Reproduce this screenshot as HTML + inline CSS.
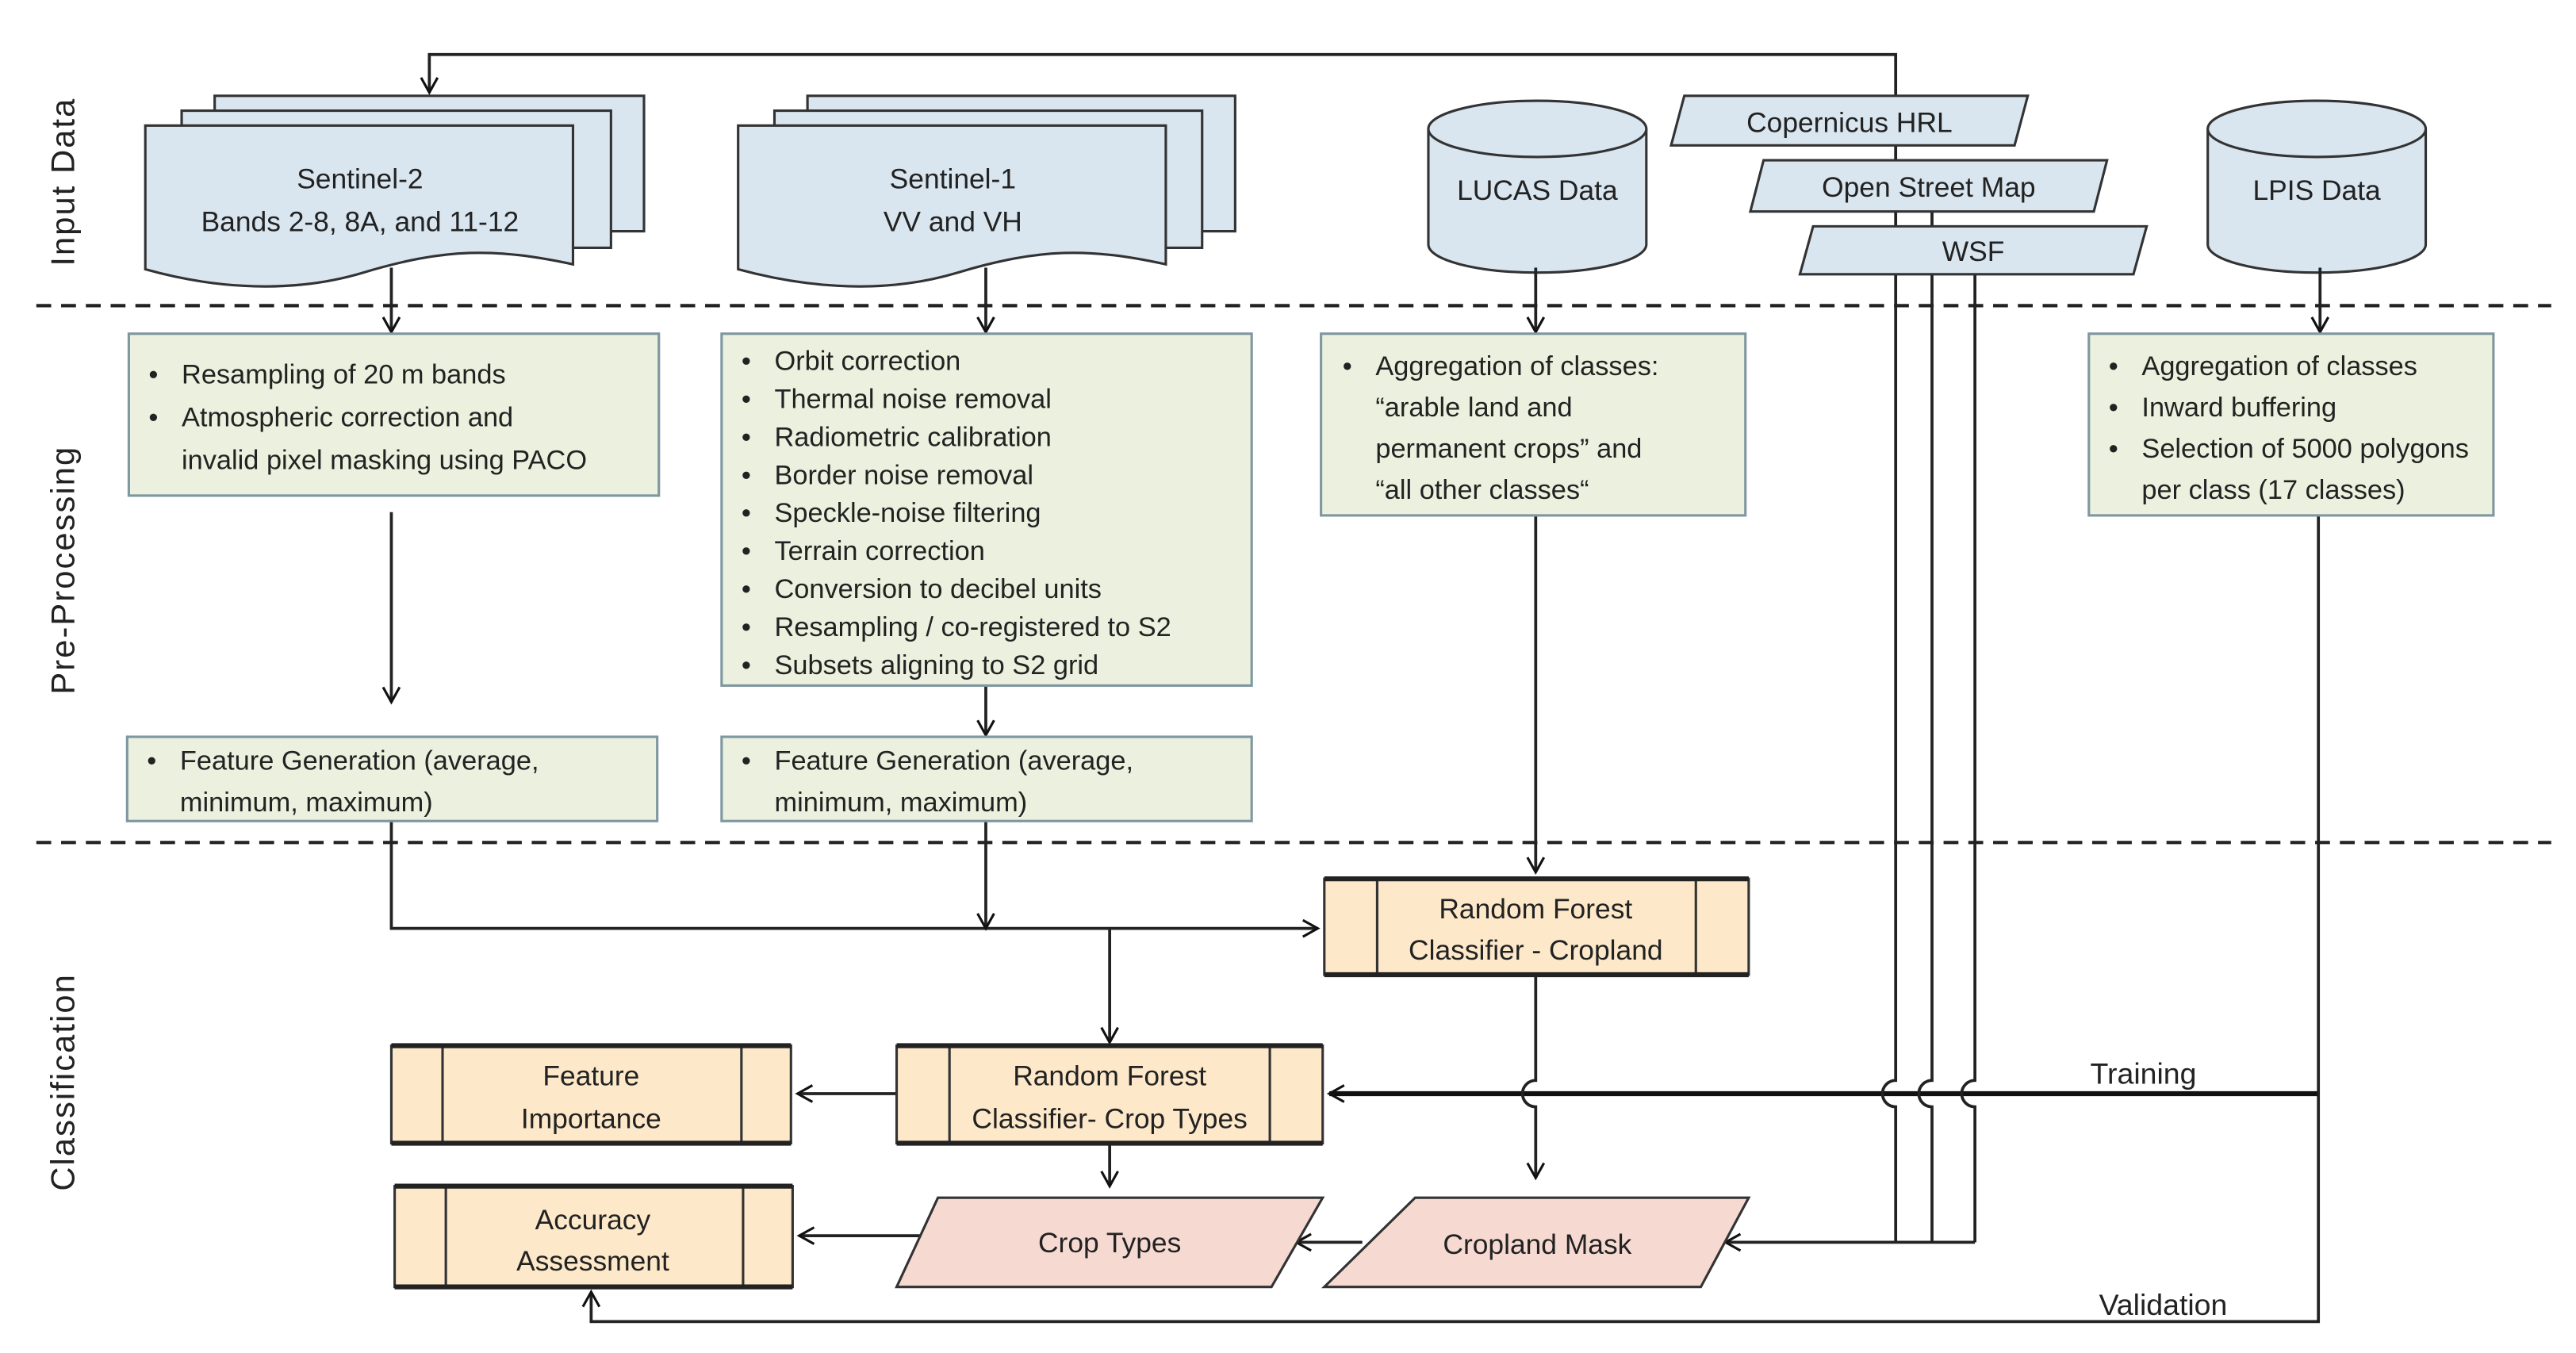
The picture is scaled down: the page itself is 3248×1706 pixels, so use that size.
<!DOCTYPE html>
<html><head><meta charset="utf-8"><style>
html,body{margin:0;padding:0;background:#fff;}
svg{display:block;}
text{font-family:"Liberation Sans",sans-serif;fill:#222;}
</style></head><body>
<svg width="3248" height="1706" viewBox="0 0 1560 819" preserveAspectRatio="none" xmlns="http://www.w3.org/2000/svg">
<defs>
<marker id="a" markerWidth="12" markerHeight="12" refX="10" refY="6" orient="auto" markerUnits="userSpaceOnUse">
<path d="M1,1 L10,6 L1,11" fill="none" stroke="#111" stroke-width="1.5"/></marker>
</defs>
<rect width="1560" height="819" fill="#fff"/>
<line x1="22" y1="185" x2="1545" y2="185" stroke="#222" stroke-width="2" stroke-dasharray="9,6"/>
<line x1="22" y1="510" x2="1545" y2="510" stroke="#222" stroke-width="2" stroke-dasharray="9,6"/>
<g font-size="20" fill="#333">
<text transform="translate(45,110) rotate(-90)" text-anchor="middle" letter-spacing="1">Input Data</text>
<text transform="translate(45,345) rotate(-90)" text-anchor="middle" letter-spacing="1">Pre-Processing</text>
<text transform="translate(45,655) rotate(-90)" text-anchor="middle" letter-spacing="1">Classification</text>
</g>
<!-- training line (straight) -->
<line x1="1404" y1="662" x2="805" y2="662" stroke="#111" stroke-width="3" marker-end="url(#a)"/>
<!-- top feedback line + verticals with hops -->
<g stroke="#222" stroke-width="1.8" fill="none">
<path d="M1148,752 V670 a8,8 0 0 1 0,-16 V33 H260 V56" marker-end="url(#a)"/>
<path d="M1170,128 V654 a8,8 0 0 0 0,16 V752"/>
<path d="M1196,166 V654 a8,8 0 0 0 0,16 V752"/>
<path d="M930,590 V654 a8,8 0 0 0 0,16 V713" marker-end="url(#a)"/>
</g>
<g fill="#d9e6f0" stroke="#333" stroke-width="1.5">
<path d="M130,58 H390 V140 H130 Z"/>
<path d="M110,67 H370 V150 H110 Z"/>
<path d="M88,76 H347 V160 C300,150 270,150 220,165 C170,180 120,172 88,163 Z"/>
<path d="M489,58 H748 V140 H489 Z"/>
<path d="M469,67 H728 V150 H469 Z"/>
<path d="M447,76 H706 V160 C660,150 630,150 580,165 C530,180 480,172 447,163 Z"/>
</g>
<g font-size="17" text-anchor="middle">
<text x="218" y="114">Sentinel-2</text>
<text x="218" y="140">Bands 2-8, 8A, and 11-12</text>
<text x="577" y="114">Sentinel-1</text>
<text x="577" y="140">VV and VH</text>
</g>
<g fill="#d9e6f0" stroke="#333" stroke-width="1.5">
<path d="M865,78 V148 A66,17 0 0 0 997,148 V78"/>
<ellipse cx="931" cy="78" rx="66" ry="17"/>
<path d="M1337,78 V148 A66,17 0 0 0 1469,148 V78"/>
<ellipse cx="1403" cy="78" rx="66" ry="17"/>
</g>
<g font-size="17" text-anchor="middle">
<text x="931" y="121">LUCAS Data</text>
<text x="1403" y="121">LPIS Data</text>
</g>
<g fill="#d9e6f0" stroke="#333" stroke-width="1.5">
<path d="M1020,58 H1228 L1220,88 H1012 Z"/>
<path d="M1068,97 H1276 L1268,128 H1060 Z"/>
<path d="M1098,137 H1300 L1292,166 H1090 Z"/>
</g>
<g font-size="17" text-anchor="middle">
<text x="1120" y="80">Copernicus HRL</text>
<text x="1168" y="119">Open Street Map</text>
<text x="1195" y="158">WSF</text>
</g>
<g stroke="#222" stroke-width="1.8" fill="none" marker-end="url(#a)">
<line x1="237" y1="162" x2="237" y2="201"/>
<line x1="597" y1="162" x2="597" y2="201"/>
<line x1="930" y1="162" x2="930" y2="201"/>
<line x1="1405" y1="162" x2="1405" y2="201"/>
<line x1="237" y1="310" x2="237" y2="425"/>
<line x1="597" y1="415" x2="597" y2="445"/>
<line x1="930" y1="312" x2="930" y2="528"/>
<polyline points="237,497 237,562 798,562"/>
<line x1="597" y1="497" x2="597" y2="562"/>
<line x1="672" y1="562" x2="672" y2="631"/>
<line x1="672" y1="692" x2="672" y2="718"/>
<line x1="543" y1="662" x2="483" y2="662"/>
<line x1="565" y1="748" x2="484" y2="748"/>
<line x1="825" y1="752" x2="785" y2="752"/>
<polyline points="1196,752 1045,752"/>
<polyline points="1404,312 1404,800 358,800 358,782"/>
</g>
<text x="1298" y="656" font-size="18" text-anchor="middle">Training</text>
<text x="1310" y="796" font-size="18" text-anchor="middle">Validation</text>
<g fill="#ebf1de" stroke="#7f97a0" stroke-width="1.5">
<rect x="78" y="202" width="321" height="98"/>
<rect x="437" y="202" width="321" height="213"/>
<rect x="800" y="202" width="257" height="110"/>
<rect x="1265" y="202" width="245" height="110"/>
<rect x="77" y="446" width="321" height="51"/>
<rect x="437" y="446" width="321" height="51"/>
</g>
<g font-size="16.5">
<text x="90" y="232">•</text><text x="110" y="232">Resampling of 20 m bands</text>
<text x="90" y="258">•</text><text x="110" y="258">Atmospheric correction and</text>
<text x="110" y="284">invalid pixel masking using PACO</text>
<text x="449" y="224">•</text><text x="469" y="224">Orbit correction</text>
<text x="449" y="247">•</text><text x="469" y="247">Thermal noise removal</text>
<text x="449" y="270">•</text><text x="469" y="270">Radiometric calibration</text>
<text x="449" y="293">•</text><text x="469" y="293">Border noise removal</text>
<text x="449" y="316">•</text><text x="469" y="316">Speckle-noise filtering</text>
<text x="449" y="339">•</text><text x="469" y="339">Terrain correction</text>
<text x="449" y="362">•</text><text x="469" y="362">Conversion to decibel units</text>
<text x="449" y="385">•</text><text x="469" y="385">Resampling / co-registered to S2</text>
<text x="449" y="408">•</text><text x="469" y="408">Subsets aligning to S2 grid</text>
<text x="813" y="227">•</text><text x="833" y="227">Aggregation of classes:</text>
<text x="833" y="252">“arable land and</text>
<text x="833" y="277">permanent crops” and</text>
<text x="833" y="302">“all other classes“</text>
<text x="1277" y="227">•</text><text x="1297" y="227">Aggregation of classes</text>
<text x="1277" y="252">•</text><text x="1297" y="252">Inward buffering</text>
<text x="1277" y="277">•</text><text x="1297" y="277">Selection of 5000 polygons</text>
<text x="1297" y="302">per class (17 classes)</text>
<text x="89" y="466">•</text><text x="109" y="466">Feature Generation (average,</text>
<text x="109" y="491">minimum, maximum)</text>
<text x="449" y="466">•</text><text x="469" y="466">Feature Generation (average,</text>
<text x="469" y="491">minimum, maximum)</text>
</g>
<g fill="#fde9c9" stroke="#333" stroke-width="1.5">
<rect x="802" y="532" width="257" height="58"/>
<rect x="543" y="633" width="258" height="59"/>
<rect x="237" y="633" width="242" height="59"/>
<rect x="239" y="718" width="241" height="61"/>
</g>
<g stroke="#333" stroke-width="1.5">
<line x1="834" y1="532" x2="834" y2="590"/><line x1="1027" y1="532" x2="1027" y2="590"/>
<line x1="575" y1="633" x2="575" y2="692"/><line x1="769" y1="633" x2="769" y2="692"/>
<line x1="268" y1="633" x2="268" y2="692"/><line x1="449" y1="633" x2="449" y2="692"/>
<line x1="270" y1="718" x2="270" y2="779"/><line x1="450" y1="718" x2="450" y2="779"/>
</g>
<g stroke="#222" stroke-width="3">
<line x1="802" y1="532" x2="1059" y2="532"/><line x1="802" y1="590" x2="1059" y2="590"/>
<line x1="543" y1="633" x2="801" y2="633"/><line x1="543" y1="692" x2="801" y2="692"/>
<line x1="237" y1="633" x2="479" y2="633"/><line x1="237" y1="692" x2="479" y2="692"/>
<line x1="239" y1="718" x2="480" y2="718"/><line x1="239" y1="779" x2="480" y2="779"/>
</g>
<g fill="#f6dad2" stroke="#333" stroke-width="1.5">
<path d="M568,725 H801 L770,779 H543 Z"/>
<path d="M857,725 H1059 L1030,779 H802 Z"/>
</g>
<g font-size="17" text-anchor="middle">
<text x="930" y="556">Random Forest</text>
<text x="930" y="581">Classifier - Cropland</text>
<text x="672" y="657">Random Forest</text>
<text x="672" y="683">Classifier- Crop Types</text>
<text x="358" y="657">Feature</text>
<text x="358" y="683">Importance</text>
<text x="359" y="744">Accuracy</text>
<text x="359" y="769">Assessment</text>
<text x="672" y="758">Crop Types</text>
<text x="931" y="759">Cropland Mask</text>
</g>
</svg>
</body></html>
